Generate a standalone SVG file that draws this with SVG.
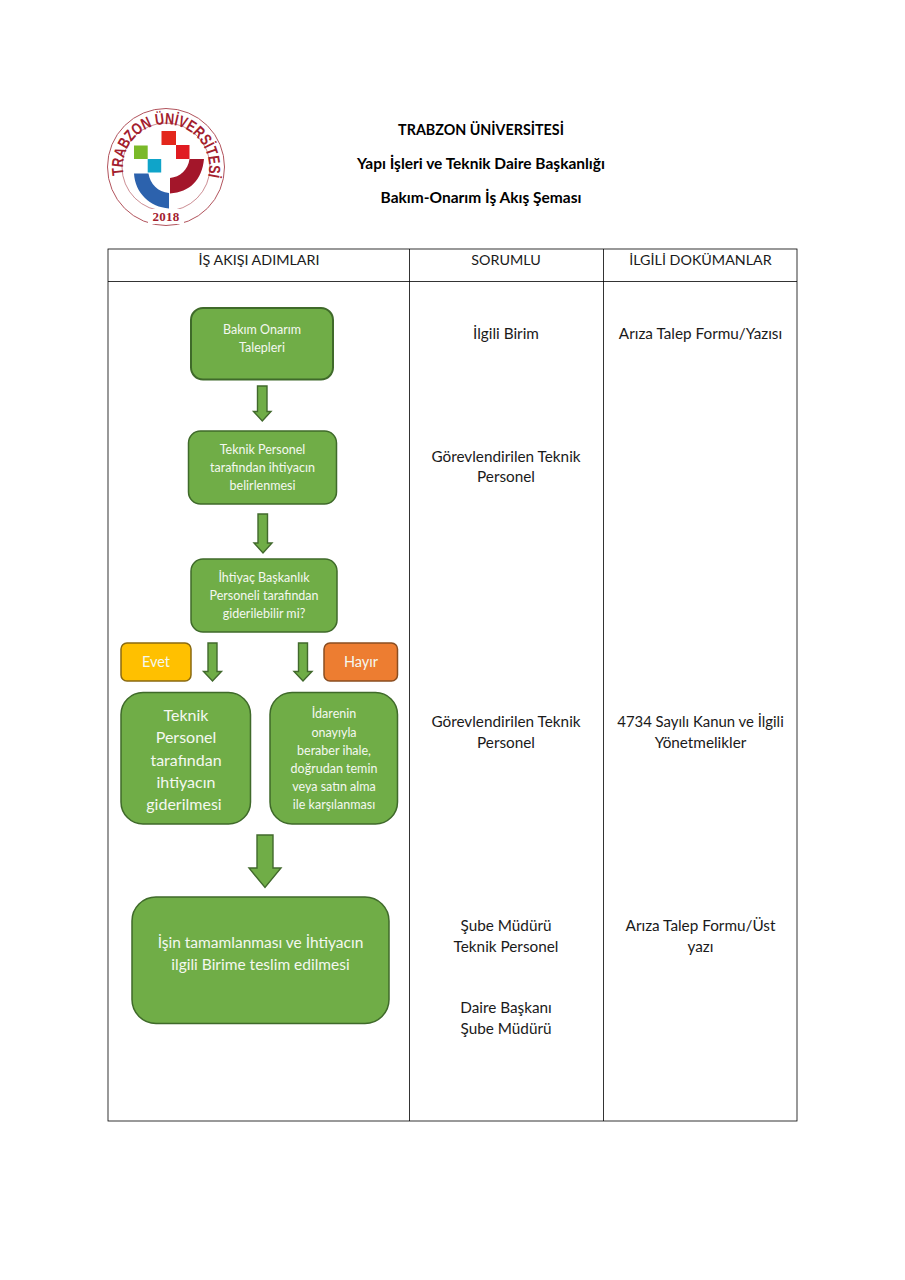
<svg xmlns="http://www.w3.org/2000/svg" width="905" height="1280" viewBox="0 0 905 1280">
<style>
text{font-family:"Lato","Carlito","Open Sans",sans-serif;text-anchor:middle}
.h{font-size:15.500px;font-weight:700;fill:#000}
.t{font-size:15.300px;fill:#1a1a1a}
.th{font-size:14.300px;fill:#1a1a1a}
.n{fill:#70ad47;stroke:#3f6a2a;stroke-width:1.500}
.w{fill:#f4f8f0}
.s{font-size:12.500px}
.a{fill:#70ad47;stroke:#41692c;stroke-width:1.400}
.g{fill:none;stroke:#000;stroke-width:.8}
.ring{fill:none;stroke:#a8404a}
</style>
<defs>
<path id="top" d="M123.700 175A43 43 0 1 1 208.300 175"/>
</defs>
<rect width="905" height="1280" fill="#fff"/>
<g id="logo">
<circle class="ring" cx="166" cy="167" r="58.500" stroke-width=".9"/>
<circle class="ring" cx="166" cy="167" r="44" stroke-width=".6"/>
<text style="font-family:'Liberation Sans',sans-serif;font-weight:700;font-size:16px;fill:#a3202e;text-anchor:start"><textPath href="#top" textLength="152" lengthAdjust="spacingAndGlyphs">TRABZON ÜNİVERSİTESİ</textPath></text>
<rect x="148" y="209" width="36" height="15" fill="#fff"/>
<text x="166" y="221" style="font-family:'Liberation Serif',serif;font-weight:700;font-size:13px;letter-spacing:.3px;fill:#a3202e">2018</text>
<rect x="161.500" y="131" width="14.500" height="14" fill="#e3271c"/>
<rect x="176" y="145" width="13.500" height="14" fill="#e01b22"/>
<rect x="134" y="145.500" width="13.700" height="13.500" fill="#7ab929"/>
<rect x="147.700" y="159" width="13.500" height="13.500" fill="#0fa4c9"/>
<path d="M134 173.500H148.500C150 184 158 192 169 193V208.500C150 207 135 193 134 173.500Z" fill="#2c62ad"/>
<path d="M189.500 159H204C202 180 190 192 170 193.500V178C180 177 188 170 189.500 159Z" fill="#a3162a"/>
</g>
<g id="title">
<text class="h" style="font-size:14.300px" x="481" y="135">TRABZON ÜNİVERSİTESİ</text>
<text class="h" x="481" y="169">Yapı İşleri ve Teknik Daire Başkanlığı</text>
<text class="h" x="481" y="203">Bakım-Onarım İş Akış Şeması</text>
</g>
<g id="table">
<rect class="g" x="108" y="249" width="689" height="872"/>
<path class="g" d="M108 281.500H797M409.500 249V1121M603.500 249V1121"/>
<text class="th" x="259" y="265">İŞ AKIŞI ADIMLARI</text>
<text class="th" x="506" y="265">SORUMLU</text>
<text class="th" x="700.500" y="265">İLGİLİ DOKÜMANLAR</text>
<text class="t" x="506" y="339">İlgili Birim</text>
<text class="t" x="700.500" y="339">Arıza Talep Formu/Yazısı</text>
<text class="t" x="506" y="461.500">Görevlendirilen Teknik</text>
<text class="t" x="506" y="482">Personel</text>
<text class="t" x="506" y="727">Görevlendirilen Teknik</text>
<text class="t" x="506" y="747.500">Personel</text>
<text class="t" style="font-size:14.900px" x="700.500" y="727">4734 Sayılı Kanun ve İlgili</text>
<text class="t" x="700.500" y="747.500">Yönetmelikler</text>
<text class="t" x="506" y="931">Şube Müdürü</text>
<text class="t" x="506" y="951.500">Teknik Personel</text>
<text class="t" x="506" y="1013">Daire Başkanı</text>
<text class="t" x="506" y="1033.500">Şube Müdürü</text>
<text class="t" x="700.500" y="931">Arıza Talep Formu/Üst</text>
<text class="t" x="700.500" y="951.500">yazı</text>
</g>
<g id="connectors">
<path class="a" d="M257.500 386H267V411.500H271L262.300 421 253.500 411.500H257.500Z"/>
<path class="a" d="M258 514H267.500V543H272L263 553 254 543H258Z"/>
<path class="a" d="M208 643H217V671.500H221.500L212.500 681 203.500 671.500H208Z"/>
<path class="a" d="M298.500 643H307.500V671.500H312L303 681 294 671.500H298.500Z"/>
<path class="a" d="M257 835H273V868H281L265 887.500 249 868H257Z"/>
</g>
<g id="n1"><rect class="n" style="stroke-width:2" x="191" y="308" width="142" height="71.500" rx="12"/>
<text class="w s" x="262" y="334">Bakım Onarım</text><text class="w s" x="262" y="351.500">Talepleri</text></g>
<g id="n2"><rect class="n" x="188.500" y="431" width="148" height="73" rx="12"/>
<text class="w s" x="262.500" y="454">Teknik Personel</text><text class="w s" x="262.500" y="472">tarafından ihtiyacın</text><text class="w s" x="262.500" y="490">belirlenmesi</text></g>
<g id="n3"><rect class="n" x="191" y="559" width="146" height="73" rx="12"/>
<text class="w s" x="264" y="582">İhtiyaç Başkanlık</text><text class="w s" x="264" y="600">Personeli tarafından</text><text class="w s" x="264" y="618">giderilebilir mi?</text></g>
<g id="evet"><rect x="121" y="643" width="70" height="38" rx="6" fill="#ffc000" stroke="#8a6a10" stroke-width="1.500"/>
<text class="w" font-size="14.500" x="156" y="667">Evet</text></g>
<g id="hayir"><rect x="324" y="643" width="73.500" height="38" rx="6" fill="#ed7d31" stroke="#8a4d20" stroke-width="1.500"/>
<text class="w" font-size="14.500" x="361" y="667">Hayır</text></g>
<g id="n4"><rect class="n" x="121" y="692.500" width="129.500" height="131.500" rx="22"/>
<text class="w" font-size="16" x="186" y="721">Teknik</text><text class="w" font-size="16" x="186" y="743">Personel</text><text class="w" font-size="16" x="186" y="766">tarafından</text><text class="w" font-size="16" x="186" y="788">ihtiyacın</text><text class="w" font-size="16" x="184" y="809.500">giderilmesi</text></g>
<g id="n5"><rect class="n" x="270" y="692.500" width="127.500" height="131.500" rx="22"/>
<text class="w s" x="334" y="718">İdarenin</text><text class="w s" x="334" y="737">onayıyla</text><text class="w s" x="334" y="755">beraber ihale,</text><text class="w s" x="334" y="773">doğrudan temin</text><text class="w s" x="334" y="791">veya satın alma</text><text class="w s" x="334" y="809">ile karşılanması</text></g>
<g id="n6"><rect class="n" x="132" y="897" width="257" height="126.500" rx="24"/>
<text class="w" font-size="15.500" x="260.500" y="948">İşin tamamlanması ve İhtiyacın</text><text class="w" font-size="15.500" x="260.500" y="970">ilgili Birime teslim edilmesi</text></g>
</svg>
